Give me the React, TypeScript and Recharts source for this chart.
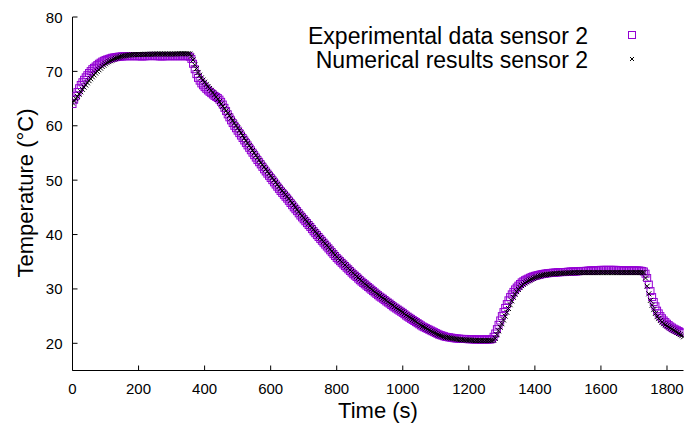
import React from 'react';
import { ScatterChart, Scatter, XAxis, YAxis } from 'recharts';

const timeS = [
  0, 5, 10, 15, 20, 25, 30, 35, 40, 45, 50, 55, 60, 65, 70, 75, 80, 85, 90, 95,
  100, 105, 110, 115, 120, 125, 130, 135, 140, 145, 150, 155, 160, 165, 170, 175, 180, 185, 190, 195,
  200, 205, 210, 215, 220, 225, 230, 235, 240, 245, 250, 255, 260, 265, 270, 275, 280, 285, 290, 295,
  300, 305, 310, 315, 320, 325, 330, 335, 340, 345, 350, 355, 360, 365, 370, 375, 380, 385, 390, 395,
  400, 405, 410, 415, 420, 425, 430, 435, 440, 445, 450, 455, 460, 465, 470, 475, 480, 485, 490, 495,
  500, 505, 510, 515, 520, 525, 530, 535, 540, 545, 550, 555, 560, 565, 570, 575, 580, 585, 590, 595,
  600, 605, 610, 615, 620, 625, 630, 635, 640, 645, 650, 655, 660, 665, 670, 675, 680, 685, 690, 695,
  700, 705, 710, 715, 720, 725, 730, 735, 740, 745, 750, 755, 760, 765, 770, 775, 780, 785, 790, 795,
  800, 805, 810, 815, 820, 825, 830, 835, 840, 845, 850, 855, 860, 865, 870, 875, 880, 885, 890, 895,
  900, 905, 910, 915, 920, 925, 930, 935, 940, 945, 950, 955, 960, 965, 970, 975, 980, 985, 990, 995,
  1000, 1005, 1010, 1015, 1020, 1025, 1030, 1035, 1040, 1045, 1050, 1055, 1060, 1065, 1070, 1075, 1080, 1085, 1090, 1095,
  1100, 1105, 1110, 1115, 1120, 1125, 1130, 1135, 1140, 1145, 1150, 1155, 1160, 1165, 1170, 1175, 1180, 1185, 1190, 1195,
  1200, 1205, 1210, 1215, 1220, 1225, 1230, 1235, 1240, 1245, 1250, 1255, 1260, 1265, 1270, 1275, 1280, 1285, 1290, 1295,
  1300, 1305, 1310, 1315, 1320, 1325, 1330, 1335, 1340, 1345, 1350, 1355, 1360, 1365, 1370, 1375, 1380, 1385, 1390, 1395,
  1400, 1405, 1410, 1415, 1420, 1425, 1430, 1435, 1440, 1445, 1450, 1455, 1460, 1465, 1470, 1475, 1480, 1485, 1490, 1495,
  1500, 1505, 1510, 1515, 1520, 1525, 1530, 1535, 1540, 1545, 1550, 1555, 1560, 1565, 1570, 1575, 1580, 1585, 1590, 1595,
  1600, 1605, 1610, 1615, 1620, 1625, 1630, 1635, 1640, 1645, 1650, 1655, 1660, 1665, 1670, 1675, 1680, 1685, 1690, 1695,
  1700, 1705, 1710, 1715, 1720, 1725, 1730, 1735, 1740, 1745, 1750, 1755, 1760, 1765, 1770, 1775, 1780, 1785, 1790, 1795,
  1800, 1805, 1810, 1815, 1820, 1825, 1830, 1835, 1840, 1845, 1850,
];

const experimentalSensor2 = [
  64.0, 64.8, 65.5, 66.2, 66.9, 67.5, 68.0, 68.45, 68.9, 69.3, 69.7, 70.05, 70.4, 70.65, 70.9, 71.15, 71.4, 71.6, 71.8, 71.95,
  72.1, 72.2, 72.3, 72.4, 72.5, 72.55, 72.6, 72.65, 72.7, 72.72, 72.75, 72.78, 72.8, 72.8, 72.8, 72.8, 72.8, 72.8, 72.8, 72.8,
  72.8, 72.78, 72.75, 72.78, 72.8, 72.8, 72.8, 72.82, 72.85, 72.82, 72.8, 72.8, 72.8, 72.78, 72.75, 72.78, 72.8, 72.8, 72.8, 72.8,
  72.8, 72.8, 72.8, 72.8, 72.8, 72.8, 72.8, 72.8, 72.8, 72.8, 72.8, 72.7, 72.3, 71.4, 70.4, 69.5, 68.8, 68.3, 67.8, 67.45,
  67.1, 66.8, 66.5, 66.25, 66.0, 65.75, 65.5, 65.3, 65.1, 64.8, 64.4, 63.9, 63.3, 62.7, 62.1, 61.55, 61.0, 60.5, 60.0, 59.55,
  59.1, 58.65, 58.2, 57.75, 57.3, 56.85, 56.4, 55.95, 55.5, 55.05, 54.6, 54.15, 53.7, 53.3, 52.9, 52.45, 52.0, 51.6, 51.2, 50.8,
  50.4, 50.0, 49.6, 49.2, 48.8, 48.4, 48.0, 47.65, 47.3, 46.95, 46.6, 46.2, 45.8, 45.4, 45.0, 44.65, 44.3, 43.9, 43.5, 43.15,
  42.8, 42.45, 42.1, 41.75, 41.4, 41.0, 40.6, 40.25, 39.9, 39.55, 39.2, 38.85, 38.5, 38.15, 37.8, 37.45, 37.1, 36.75, 36.4, 36.05,
  35.7, 35.4, 35.1, 34.8, 34.5, 34.2, 33.9, 33.6, 33.3, 33.0, 32.7, 32.45, 32.2, 31.9, 31.6, 31.35, 31.1, 30.85, 30.6, 30.35,
  30.1, 29.85, 29.6, 29.35, 29.1, 28.85, 28.6, 28.4, 28.2, 27.95, 27.7, 27.5, 27.3, 27.05, 26.8, 26.6, 26.4, 26.2, 26.0, 25.8,
  25.6, 25.35, 25.1, 24.9, 24.7, 24.5, 24.3, 24.1, 23.9, 23.7, 23.5, 23.3, 23.1, 22.95, 22.8, 22.65, 22.5, 22.35, 22.2, 22.05,
  21.9, 21.75, 21.6, 21.5, 21.4, 21.3, 21.2, 21.15, 21.1, 21.05, 21.0, 20.95, 20.9, 20.88, 20.85, 20.82, 20.8, 20.8, 20.8, 20.78,
  20.75, 20.75, 20.75, 20.72, 20.7, 20.7, 20.7, 20.7, 20.7, 20.7, 20.7, 20.7, 20.7, 20.7, 20.8, 21.2, 21.8, 22.6, 23.4, 24.2,
  25.0, 25.75, 26.5, 27.2, 27.9, 28.5, 29.0, 29.45, 29.9, 30.25, 30.6, 30.9, 31.2, 31.4, 31.6, 31.75, 31.9, 32.05, 32.2, 32.3,
  32.4, 32.48, 32.55, 32.62, 32.7, 32.75, 32.8, 32.85, 32.9, 32.92, 32.95, 32.98, 33.0, 33.02, 33.05, 33.08, 33.1, 33.1, 33.1, 33.12,
  33.15, 33.18, 33.2, 33.2, 33.2, 33.22, 33.25, 33.28, 33.3, 33.3, 33.3, 33.32, 33.35, 33.38, 33.4, 33.4, 33.4, 33.42, 33.45, 33.48,
  33.5, 33.5, 33.5, 33.5, 33.5, 33.5, 33.5, 33.5, 33.5, 33.5, 33.45, 33.45, 33.45, 33.42, 33.4, 33.4, 33.4, 33.4, 33.4, 33.4,
  33.4, 33.4, 33.4, 33.38, 33.35, 33.3, 33.2, 32.8, 32.0, 30.8, 29.6, 28.5, 27.6, 26.8, 26.0, 25.5, 25.0, 24.6, 24.2, 23.9,
  23.6, 23.35, 23.1, 22.9, 22.7, 22.55, 22.4, 22.25, 22.1, 22.0, 21.9,
];

const numericalSensor2 = [
  64.2, 64.6, 65.0, 65.4, 65.8, 66.25, 66.7, 67.1, 67.5, 67.9, 68.3, 68.65, 69.0, 69.35, 69.7, 70.0, 70.3, 70.6, 70.9, 71.15,
  71.4, 71.6, 71.8, 71.95, 72.1, 72.25, 72.4, 72.5, 72.6, 72.7, 72.8, 72.85, 72.9, 72.95, 73.0, 73.02, 73.05, 73.08, 73.1, 73.1,
  73.1, 73.1, 73.1, 73.12, 73.15, 73.15, 73.15, 73.15, 73.15, 73.18, 73.2, 73.2, 73.2, 73.2, 73.2, 73.2, 73.2, 73.2, 73.2, 73.2,
  73.2, 73.2, 73.2, 73.22, 73.25, 73.25, 73.25, 73.25, 73.25, 73.25, 73.25, 73.2, 72.8, 72.1, 71.2, 70.5, 69.8, 69.3, 68.8, 68.4,
  68.0, 67.6, 67.2, 66.85, 66.5, 66.1, 65.7, 65.3, 64.9, 64.45, 64.0, 63.6, 63.2, 62.75, 62.3, 61.85, 61.4, 60.95, 60.5, 60.05,
  59.6, 59.15, 58.7, 58.2, 57.7, 57.25, 56.8, 56.35, 55.9, 55.45, 55.0, 54.55, 54.1, 53.65, 53.2, 52.8, 52.4, 52.0, 51.6, 51.2,
  50.8, 50.4, 50.0, 49.6, 49.2, 48.8, 48.4, 48.05, 47.7, 47.35, 47.0, 46.6, 46.2, 45.8, 45.4, 45.0, 44.6, 44.2, 43.8, 43.45,
  43.1, 42.75, 42.4, 42.0, 41.6, 41.25, 40.9, 40.55, 40.2, 39.8, 39.4, 39.05, 38.7, 38.35, 38.0, 37.65, 37.3, 36.95, 36.6, 36.25,
  35.9, 35.6, 35.3, 35.0, 34.7, 34.4, 34.1, 33.8, 33.5, 33.2, 32.9, 32.6, 32.3, 32.05, 31.8, 31.5, 31.2, 30.95, 30.7, 30.45,
  30.2, 29.95, 29.7, 29.45, 29.2, 29.0, 28.8, 28.55, 28.3, 28.1, 27.9, 27.65, 27.4, 27.2, 27.0, 26.75, 26.5, 26.3, 26.1, 25.9,
  25.7, 25.45, 25.2, 25.0, 24.8, 24.6, 24.4, 24.2, 24.0, 23.75, 23.5, 23.3, 23.1, 22.95, 22.8, 22.6, 22.4, 22.25, 22.1, 21.95,
  21.8, 21.65, 21.5, 21.4, 21.3, 21.2, 21.1, 21.05, 21.0, 20.95, 20.9, 20.85, 20.8, 20.75, 20.7, 20.68, 20.65, 20.62, 20.6, 20.6,
  20.6, 20.58, 20.55, 20.52, 20.5, 20.5, 20.5, 20.5, 20.5, 20.5, 20.5, 20.5, 20.5, 20.5, 20.5, 20.6, 20.9, 21.6, 22.3, 22.95,
  23.6, 24.3, 25.0, 25.7, 26.4, 27.1, 27.8, 28.45, 29.0, 29.5, 29.9, 30.25, 30.6, 30.85, 31.1, 31.3, 31.5, 31.65, 31.8, 31.95,
  32.1, 32.2, 32.3, 32.4, 32.5, 32.55, 32.6, 32.65, 32.7, 32.72, 32.75, 32.78, 32.8, 32.82, 32.85, 32.88, 32.9, 32.9, 32.9, 32.92,
  32.95, 32.95, 32.95, 32.98, 33.0, 33.0, 33.0, 33.0, 33.0, 33.0, 33.0, 33.0, 33.0, 33.0, 33.0, 33.0, 33.0, 33.0, 33.0, 33.0,
  33.0, 33.0, 33.0, 33.0, 33.0, 33.0, 33.0, 33.0, 33.0, 33.0, 33.0, 33.0, 33.0, 33.0, 33.0, 33.0, 33.0, 33.0, 33.0, 33.0,
  33.0, 33.0, 33.0, 33.0, 33.0, 33.0, 33.0, 32.0, 30.5, 29.1, 27.9, 27.0, 26.2, 25.5, 24.9, 24.55, 24.2, 23.9, 23.6, 23.4,
  23.2, 23.0, 22.8, 22.6, 22.4, 22.2, 22.0, 21.8, 21.6, 21.4, 21.2,
];

const xTicks = [0, 200, 400, 600, 800, 1000, 1200, 1400, 1600, 1800];
const yTicks = [20, 30, 40, 50, 60, 70, 80];
const seriesNames = ['Experimental data sensor 2', 'Numerical results sensor 2'];
const xLabel = 'Time (s)';
const yLabel = 'Temperature (°C)';

const FONT = '"Liberation Sans", Arial, Helvetica, sans-serif';
const PURPLE = '#9400d3';

const expData = timeS.map((t, i) => ({ t, v: experimentalSensor2[i] }));
const numData = timeS.map((t, i) => ({ t, v: numericalSensor2[i] }));

const SquareShape = (p: any) => (
  <rect x={p.cx - 3.5} y={p.cy - 3.5} width={7} height={7} fill="none" stroke={PURPLE} strokeWidth={1} />
);
const CrossShape = (p: any) => (
  <path
    d={`M${p.cx - 2.5},${p.cy - 2.5}L${p.cx + 2.5},${p.cy + 2.5}M${p.cx - 2.5},${p.cy + 2.5}L${p.cx + 2.5},${p.cy - 2.5}`}
    stroke="#000"
    strokeWidth={1}
    fill="none"
  />
);

const XTick = (p: any) => (
  <g>
    <line x1={p.x} y1={p.y} x2={p.x} y2={p.y - 5} stroke="#000" strokeWidth={1} />
    <text x={p.x} y={p.y + 23} textAnchor="middle" fontSize={15} fontFamily={FONT} fill="#000">
      {p.payload.value}
    </text>
  </g>
);
const YTick = (p: any) => (
  <g>
    <line x1={p.x} y1={p.y} x2={p.x + 5} y2={p.y} stroke="#000" strokeWidth={1} />
    <text x={p.x - 10} y={p.y + 5.5} textAnchor="end" fontSize={15} fontFamily={FONT} fill="#000">
      {p.payload.value}
    </text>
  </g>
);

export default function App() {
  return (
    <div style={{ position: 'absolute', left: 0, top: 0, width: 686, height: 423, background: '#fff' }}>
      <ScatterChart width={686} height={423} margin={{ top: 17, right: 2.5, bottom: 22.5, left: 12.5 }}>
        <XAxis
          dataKey="t"
          type="number"
          domain={[0, 1850]}
          ticks={xTicks}
          allowDataOverflow
          height={30}
          tickSize={0}
          tickMargin={0}
          tick={<XTick />}
          axisLine={{ stroke: '#000', strokeWidth: 1 }}
          interval={0}
        />
        <YAxis
          dataKey="v"
          type="number"
          domain={[15, 80]}
          ticks={yTicks}
          allowDataOverflow
          width={60}
          tickSize={0}
          tickMargin={0}
          tick={<YTick />}
          axisLine={{ stroke: '#000', strokeWidth: 1 }}
          interval={0}
        />
        <Scatter name={seriesNames[0]} data={expData} shape={SquareShape} isAnimationActive={false} />
        <Scatter name={seriesNames[1]} data={numData} shape={CrossShape} isAnimationActive={false} />
      </ScatterChart>
      <svg width={686} height={423} style={{ position: 'absolute', left: 0, top: 0, pointerEvents: 'none' }}>
        <text x={588} y={44.3} textAnchor="end" fontSize={23} fontFamily={FONT} fill="#000">
          {seriesNames[0]}
        </text>
        <text x={588} y={68.3} textAnchor="end" fontSize={23} fontFamily={FONT} fill="#000">
          {seriesNames[1]}
        </text>
        <rect x={628.5} y={31.5} width={7} height={7} fill="none" stroke={PURPLE} strokeWidth={1} />
        <path d="M630,57L634,61M630,61L634,57" stroke="#000" strokeWidth={1} />
        <text x={378} y={418.3} textAnchor="middle" fontSize={22} fontFamily={FONT} fill="#000">
          {xLabel}
        </text>
        <text
          x={33}
          y={193}
          textAnchor="middle"
          fontSize={22}
          fontFamily={FONT}
          fill="#000"
          transform="rotate(-90, 33, 193)"
        >
          {yLabel}
        </text>
      </svg>
    </div>
  );
}
